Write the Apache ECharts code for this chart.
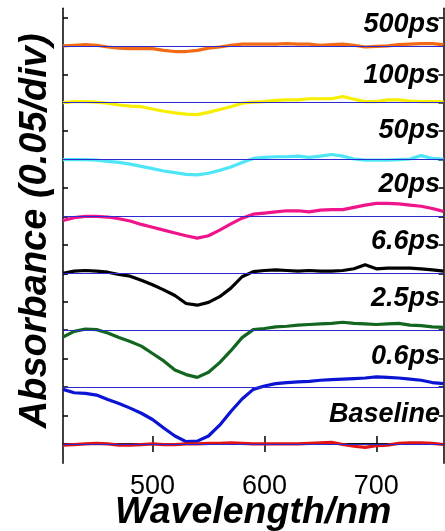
<!DOCTYPE html>
<html>
<head>
<meta charset="utf-8">
<script src="https://cdn.jsdelivr.net/npm/echarts@6/dist/echarts.min.js"></script>
<style>
  html, body { margin: 0; padding: 0; background: #fff; }
  #chart { width: 445px; height: 531px; }
</style>
</head>
<body>
<div id="chart"></div>
<script>
// wavelength grid (nm)
const wavelength = [420, 430, 440, 450, 460, 470, 480, 490, 500, 510, 520, 530, 540, 550, 560, 570, 580, 590,
  600, 610, 620, 630, 640, 650, 660, 670, 680, 690, 700, 710, 720, 730, 740, 750, 760];

// delta absorbance of each trace
const dA500 = [0, 0.001, 0.002, 0.001, -0.002, -0.004, -0.005, -0.005, -0.005, -0.008, -0.010, -0.010, -0.008, -0.004, -0.002, 0.001, 0.003, 0.003,
  0.003, 0.003, 0.004, 0.003, 0.003, 0.001, 0.002, 0.003, 0.001, -0.002, -0.001, 0, 0.002, 0.003, 0.004, 0.004, 0.002];
const dA100 = [0, 0.002, 0.002, 0.001, -0.001, -0.004, -0.006, -0.007, -0.011, -0.015, -0.018, -0.020, -0.021, -0.017, -0.012, -0.007, -0.001, 0.001,
  0.002, 0.004, 0.005, 0.005, 0.007, 0.007, 0.007, 0.011, 0.006, 0.002, 0.002, 0.005, 0.005, 0.003, 0.002, 0.002, 0.002];
const dA50 = [0, 0, 0, -0.001, -0.003, -0.005, -0.008, -0.012, -0.016, -0.020, -0.023, -0.026, -0.027, -0.024, -0.019, -0.013, -0.005, 0.002,
  0.004, 0.005, 0.005, 0.006, 0.004, 0.006, 0.009, 0.006, 0.001, -0.001, -0.001, -0.001, 0, 0.001, 0.007, 0.002, 0.001];
const dA20 = [-0.007, -0.002, 0, 0, -0.001, -0.004, -0.008, -0.014, -0.019, -0.024, -0.029, -0.034, -0.038, -0.034, -0.024, -0.013, -0.003, 0.004,
  0.006, 0.008, 0.010, 0.010, 0.008, 0.011, 0.012, 0.012, 0.016, 0.020, 0.023, 0.023, 0.022, 0.020, 0.018, 0.014, 0.009];
const dA6_6 = [0, 0.004, 0.005, 0.004, 0.002, -0.002, -0.005, -0.012, -0.020, -0.029, -0.039, -0.053, -0.056, -0.051, -0.041, -0.026, -0.006, 0.003,
  0.005, 0.006, 0.005, 0.004, 0.005, 0.004, 0.004, 0.005, 0.008, 0.015, 0.008, 0.009, 0.009, 0.009, 0.008, 0.006, 0.004];
const dA2_5 = [-0.012, -0.002, 0.002, 0.001, -0.005, -0.013, -0.020, -0.028, -0.041, -0.054, -0.070, -0.078, -0.083, -0.074, -0.057, -0.036, -0.013, 0.001,
  0.003, 0.006, 0.007, 0.009, 0.010, 0.011, 0.012, 0.014, 0.012, 0.011, 0.010, 0.011, 0.012, 0.009, 0.008, 0.006, 0.005];
const dA0_6 = [-0.004, -0.010, -0.011, -0.014, -0.022, -0.029, -0.037, -0.046, -0.057, -0.072, -0.086, -0.096, -0.095, -0.086, -0.067, -0.043, -0.021, -0.004,
  0.002, 0.006, 0.008, 0.009, 0.010, 0.012, 0.013, 0.014, 0.015, 0.016, 0.018, 0.017, 0.016, 0.014, 0.012, 0.008, 0.006];
const dABase = [-0.002, -0.001, 0, 0.001, 0, -0.002, -0.002, -0.001, 0, -0.001, -0.001, 0, 0, 0.001, 0.001, 0.002, 0.001, 0,
  0, 0, 0, 0, 0.001, 0.002, 0.003, -0.001, -0.004, -0.006, -0.003, -0.002, 0.001, 0.002, 0.002, 0.001, -0.001];

const traces = [dA500, dA100, dA50, dA20, dA6_6, dA2_5, dA0_6, dABase];
const delayLabels = ['500ps', '100ps', '50ps', '20ps', '6.6ps', '2.5ps', '0.6ps', 'Baseline'];
const offsets = [0.7, 0.6, 0.5, 0.4, 0.3, 0.2, 0.1, 0];
const colors = ['#f26a14', '#f7ef00', '#4ee6f7', '#f0148a', '#000000', '#12661f', '#0a14d2', '#e01414'];

const yTicks = [0, 0.05, 0.1, 0.15, 0.2, 0.25, 0.3, 0.35, 0.4, 0.45, 0.5, 0.55, 0.6, 0.65, 0.7, 0.75];
const xTicks = [500, 600, 700];

const font = '"Liberation Sans", Arial, sans-serif';
const labelTops = [25, 76, 131, 185, 241.7, 298.3, 356.7, 414.2];

const myChart = echarts.init(document.getElementById('chart'));

const series = traces.map(function (t, i) {
  return {
    type: 'line',
    name: delayLabels[i],
    data: wavelength.map(function (w, k) { return [w, t[k] + offsets[i]]; }),
    showSymbol: false,
    symbol: 'none',
    lineStyle: { color: colors[i], width: 3.2 },
    z: 3,
    silent: true,
    animation: false
  };
});

// blue zero lines under each trace
series.unshift({
  type: 'line',
  data: [],
  silent: true,
  z: 1,
  markLine: {
    symbol: 'none',
    silent: true,
    animation: false,
    label: { show: false },
    lineStyle: { color: '#2a2ad0', width: 1, type: 'solid' },
    data: offsets.map(function (o) { return { yAxis: o }; })
  }
});

const axisCommon = {
  axisLine: { show: true, lineStyle: { color: '#000', width: 1.5 } },
  splitLine: { show: false }
};

myChart.setOption({
  animation: false,
  grid: { left: 63, right: 1.5, top: 8.3, bottom: 67.7, containLabel: false, outerBoundsMode: 'none' },
  xAxis: [
    Object.assign({
      type: 'value', min: 420, max: 760, position: 'bottom',
      name: 'Wavelength/nm', nameLocation: 'middle', nameGap: 30, nameMoveOverlap: false,
      nameTextStyle: { fontFamily: font, fontSize: 37.5, fontWeight: 'bold', fontStyle: 'italic', color: '#000' },
      axisTick: { inside: true, length: 8, customValues: xTicks, lineStyle: { color: '#000', width: 1.5 } },
      axisLabel: { customValues: xTicks, margin: 10, fontFamily: font, fontSize: 27, color: '#000' }
    }, axisCommon),
    Object.assign({
      type: 'value', min: 420, max: 760, position: 'top',
      axisTick: { inside: true, length: 8, customValues: xTicks, lineStyle: { color: '#000', width: 1.5 } },
      axisLabel: { show: false }
    }, axisCommon)
  ],
  yAxis: [
    Object.assign({
      type: 'value', min: -0.034, max: 0.766, position: 'left',
      name: 'Absorbance (0.05/div)', nameLocation: 'middle', nameGap: 8, nameRotate: 90, nameMoveOverlap: false,
      nameTextStyle: { fontFamily: font, fontSize: 38, fontWeight: 'bold', fontStyle: 'italic', color: '#000', padding: [0, 0, 0, 10] },
      axisTick: { inside: true, length: 5, customValues: yTicks, lineStyle: { color: '#000', width: 1.5 } },
      axisLabel: { show: false }
    }, axisCommon),
    Object.assign({
      type: 'value', min: -0.034, max: 0.766, position: 'right',
      axisTick: { inside: true, length: 5, customValues: yTicks, lineStyle: { color: '#000', width: 1.5 } },
      axisLabel: { show: false }
    }, axisCommon)
  ],
  graphic: delayLabels.map(function (txt, i) {
    return {
      type: 'text',
      x: 440,
      y: labelTops[i],
      z: 10,
      style: {
        text: txt,
        textAlign: 'right',
        textVerticalAlign: 'middle',
        font: 'italic bold 27px ' + font,
        fill: '#000'
      }
    };
  }),
  series: series
});
</script>
</body>
</html>
